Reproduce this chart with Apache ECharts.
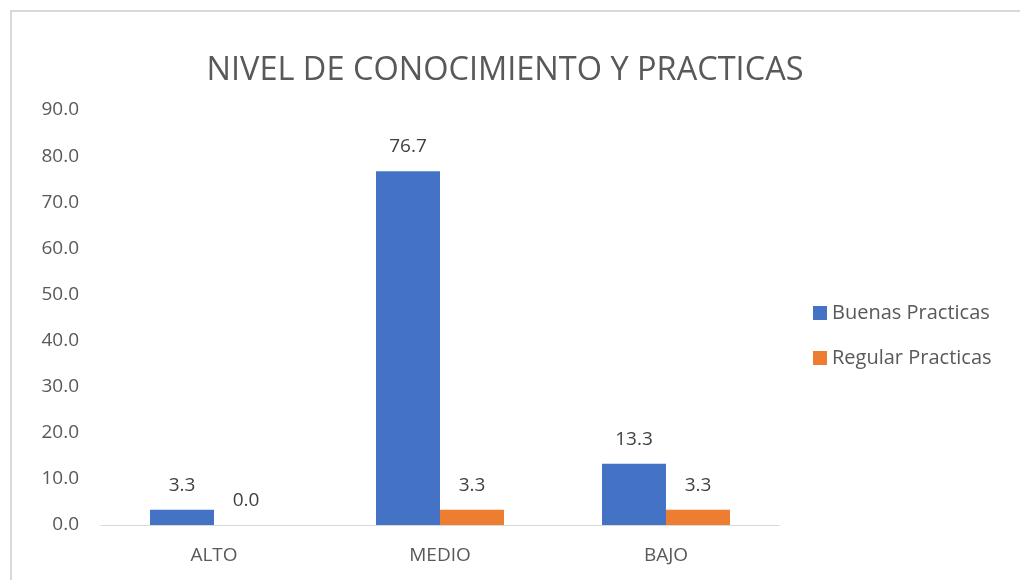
<!DOCTYPE html>
<html>
<head>
<meta charset="utf-8">
<script src="https://cdn.jsdelivr.net/npm/echarts@6/dist/echarts.min.js"></script>
<style>
  html, body { margin: 0; padding: 0; background: #fff; overflow: hidden; }
  #frame { position: absolute; left: 10px; top: 10px; width: 1100px; height: 700px; border: 2px solid #d9d9d9; }
  #chart { position: absolute; left: 0; top: 0; width: 1020px; height: 580px; }
</style>
</head>
<body>
<div id="frame"></div>
<div id="chart"></div>
<script>
const categories = ["ALTO", "MEDIO", "BAJO"];
const buenas = [3.3, 76.7, 13.3];
const regular = [0.0, 3.3, 3.3];

const font = "'Open Sans', 'Noto Sans', sans-serif";
const chart = echarts.init(document.getElementById("chart"));

const label = {
  show: true,
  position: "top",
  distance: 15,
  color: "#404040",
  fontSize: 19,
  fontFamily: font,
  formatter: (p) => p.value.toFixed(1),
};

chart.setOption({
  animation: false,
  title: {
    text: "NIVEL DE CONOCIMIENTO Y PRACTICAS",
    left: 500,
    textAlign: "center",
    top: 49,
    textStyle: { color: "#595959", fontSize: 32.5, fontWeight: "normal", fontFamily: font },
  },
  legend: {
    orient: "vertical",
    left: 808,
    top: 298,
    itemWidth: 14,
    itemHeight: 14,
    itemGap: 25,
    icon: "rect",
    textStyle: { color: "#595959", fontSize: 20, fontFamily: font },
  },
  grid: { left: 101, right: 241, top: 110, bottom: 55 },
  xAxis: {
    type: "category",
    data: categories,
    axisLine: { lineStyle: { color: "#d9d9d9", width: 1 } },
    axisTick: { show: false },
    axisLabel: { color: "#595959", fontSize: 19, fontFamily: font, margin: 21 },
  },
  yAxis: {
    type: "value",
    min: 0,
    max: 90,
    interval: 10,
    splitLine: { show: false },
    axisLine: { show: false },
    axisTick: { show: false },
    axisLabel: {
      color: "#595959",
      fontSize: 19,
      fontFamily: font,
      margin: 22,
      formatter: (v) => v.toFixed(1),
    },
  },
  series: [
    {
      name: "Buenas Practicas",
      type: "bar",
      data: buenas,
      barWidth: 64,
      barGap: "0%",
      itemStyle: { color: "#4472c4" },
      label: label,
    },
    {
      name: "Regular Practicas",
      type: "bar",
      data: regular,
      barWidth: 64,
      barGap: "0%",
      itemStyle: { color: "#ed7d31" },
      label: label,
    },
  ],
});
</script>
</body>
</html>
